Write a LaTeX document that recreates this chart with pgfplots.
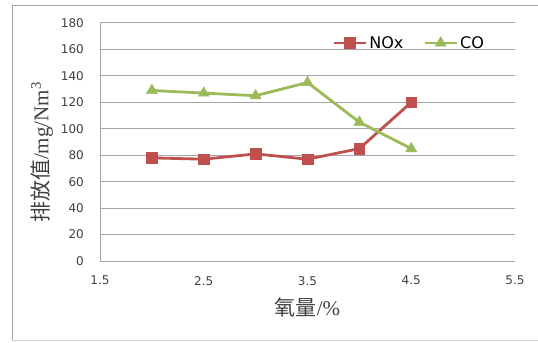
\documentclass[border=0pt]{standalone}
\usepackage{fontspec}
\setmainfont{DejaVu Sans}
\newfontfamily\cjk{Noto Sans CJK SC}
\newfontfamily\serif{Liberation Serif}
\usepackage{pgfplots}
\pgfplotsset{compat=1.18}
\definecolor{noxred}{HTML}{C0504D}
\definecolor{cogreen}{HTML}{9BBB59}
\definecolor{gridgray}{HTML}{A6A6A6}
\definecolor{labgray}{HTML}{404040}
\begin{document}
\begin{tikzpicture}[x=1bp,y=1bp]
\useasboundingbox (0,0) rectangle (538,342);
% outer chart frame
\draw[gridgray, line width=1bp] (12,2) -- (12,336) -- (538,336);
\draw[gridgray!50, line width=0.6bp] (12,2) -- (538,2);
\begin{axis}[
  at={(100bp,81bp)}, anchor=south west,
  scale only axis, width=415bp, height=238bp,
  xmin=1.5, xmax=5.5, ymin=0, ymax=180,
  xtick={1.5,2.5,3.5,4.5,5.5},
  ytick={0,20,...,180},
  xticklabels={1.5,2.5,3.5,4.5,5.5},
  major tick length=0pt,
  axis line style={gridgray, line width=1bp},
  axis x line*=bottom, axis y line*=left,
  ymajorgrids, grid style={gridgray, line width=1bp},
  /pgf/number format/assume math mode=true,
  ticklabel style={font=\fontsize{12bp}{14bp}\selectfont, text=labgray},
  yticklabel style={anchor=east, inner sep=0pt, xshift=-16bp},
  xticklabel style={anchor=north, inner sep=0pt, yshift=-15bp},
  xlabel={{\cjk 氧量}{\serif/\%}},
  xlabel style={font=\fontsize{21bp}{24bp}\selectfont, text=labgray,
    at={(rel axis cs:0.5,-0.1975)}, anchor=center},
  ylabel={{\cjk 排放值}{\serif/mg/Nm\textsuperscript{3}}},
  ylabel style={font=\fontsize{21bp}{24bp}\selectfont, text=labgray,
    at={(rel axis cs:-0.14,0.456)}, anchor=center, rotate=0},
  legend columns=2,
  legend style={draw=none, fill=none, at={(rel axis cs:0.745,0.916)},
    anchor=center, font=\fontsize{16bp}{18bp}\selectfont, text=black,
    inner sep=0pt,
    /tikz/every even column/.append style={column sep=18bp}},
  legend image code/.code={%
    \draw[mark repeat=2, mark phase=2] plot coordinates {(0bp,0bp) (16bp,0bp) (32bp,0bp)};},
  every axis plot/.append style={line width=2.8bp},
]
\addplot[noxred, mark=square*, mark size=5.3bp, mark options={line width=0.5bp}]
  coordinates {(2,78) (2.5,77) (3,81) (3.5,77) (4,85) (4.5,120)};
\addlegendentry{NOx}
\addplot[cogreen, mark=triangle*, mark size=6.3bp, mark options={line width=0.5bp}]
  coordinates {(2,129) (2.5,127) (3,125) (3.5,135) (4,105) (4.5,85)};
\addlegendentry{CO}
\end{axis}
\end{tikzpicture}
\end{document}
